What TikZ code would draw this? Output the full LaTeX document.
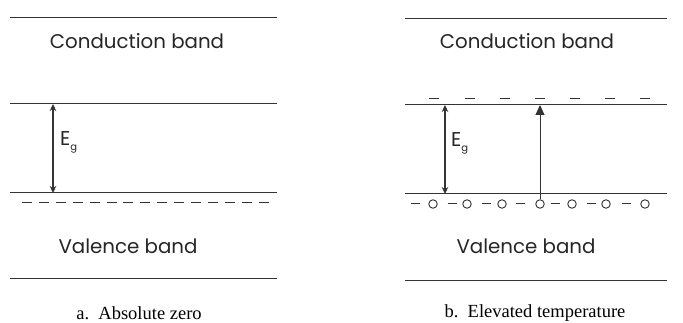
\documentclass[tikz,border=0pt]{standalone}
\usepackage{fontspec}
\setmainfont{Liberation Serif}
\newfontfamily\bandfont{Poppins}
\usetikzlibrary{arrows.meta}
\begin{document}
\begin{tikzpicture}[x=1pt,y=-1pt,
  band/.style={draw=black!80, line width=1pt},
  bandlabel/.style={font=\bandfont\fontsize{19.8}{22}\selectfont, text=black!85, inner sep=0pt},
  eglabel/.style={font=\bandfont\fontsize{20}{22}\selectfont, text=black!85, inner sep=0pt, anchor=west},
  caption/.style={font=\fontsize{18.5}{21}\selectfont, inner sep=0pt},
  gap/.style={draw=black!80, line width=1.1pt, {Stealth[length=7pt,width=6.5pt]}-{Stealth[length=7pt,width=6.5pt]}},
  excite/.style={draw=black!80, line width=1pt, -{Triangle[length=10pt,width=9pt]}},
  elec/.style={draw=black!80, line width=1pt},
  hole/.style={circle, draw=black!80, line width=0.9pt, minimum size=8.5pt, inner sep=0pt}]
\useasboundingbox (0,0) rectangle (683,323);
% ---- left panel
\coordinate (aT1) at (10,18); \coordinate (aT2) at (277,18);
\coordinate (aC1) at (10,104); \coordinate (aC2) at (277,104);
\coordinate (aV1) at (10,193); \coordinate (aV2) at (277,193);
\coordinate (aB1) at (10,279); \coordinate (aB2) at (277,279);
\draw[band] (aT1) -- (aT2);
\draw[band] (aC1) -- (aC2);
\draw[band] (aV1) -- (aV2);
\draw[band] (aB1) -- (aB2);
\node[bandlabel] (acl) at (137,41) {Conduction band};
\node[bandlabel] (avl) at (128,246) {Valence band};
\coordinate (agT) at (53,104); \coordinate (agB) at (53,193);
\draw[gap] (agT) -- (agB);
\node[eglabel] (aeg) at (60,142) {E\raisebox{-0.45ex}{\fontsize{10}{11}\selectfont g}};
\foreach \i in {0,...,14} {
  \coordinate (ad\i a) at (22+16.9*\i,203);
  \coordinate (ad\i b) at (32+16.9*\i,203);
  \draw[elec] (ad\i a) -- (ad\i b);
}
\node[caption] (acap) at (139,313) {a.\ \ Absolute zero};
% ---- right panel
\coordinate (bT1) at (405,19); \coordinate (bT2) at (667,19);
\coordinate (bC1) at (405,105); \coordinate (bC2) at (667,105);
\coordinate (bV1) at (405,194); \coordinate (bV2) at (667,194);
\coordinate (bB1) at (405,281); \coordinate (bB2) at (667,281);
\draw[band] (bT1) -- (bT2);
\draw[band] (bC1) -- (bC2);
\draw[band] (bV1) -- (bV2);
\draw[band] (bB1) -- (bB2);
\node[bandlabel] (bcl) at (527,41) {Conduction band};
\node[bandlabel] (bvl) at (526,246) {Valence band};
\coordinate (bgT) at (445,105); \coordinate (bgB) at (445,194);
\draw[gap] (bgT) -- (bgB);
\node[eglabel] (beg) at (451,143) {E\raisebox{-0.45ex}{\fontsize{10}{11}\selectfont g}};
\foreach \x [count=\k] in {434,470,505,540,575,610,645} {
  \coordinate (be\k a) at (\x-5,99);
  \coordinate (be\k b) at (\x+5,99);
  \draw[elec] (be\k a) -- (be\k b);
}
\foreach \x [count=\k] in {415,452,486,520,555,591,626} {
  \coordinate (bd\k a) at (\x-4.5,204);
  \coordinate (bd\k b) at (\x+4.5,204);
  \draw[elec] (bd\k a) -- (bd\k b);
}
\foreach \x [count=\k] in {433,467,502,540,572,606,645} {
  \node[hole] (h\k) at (\x,204) {};
}
\coordinate (exTop) at (540,105);
\draw[excite] (h4.north) -- (exTop);
\node[caption] (bcap) at (535,313) {b.\ \ Elevated temperature};
\end{tikzpicture}
\end{document}
